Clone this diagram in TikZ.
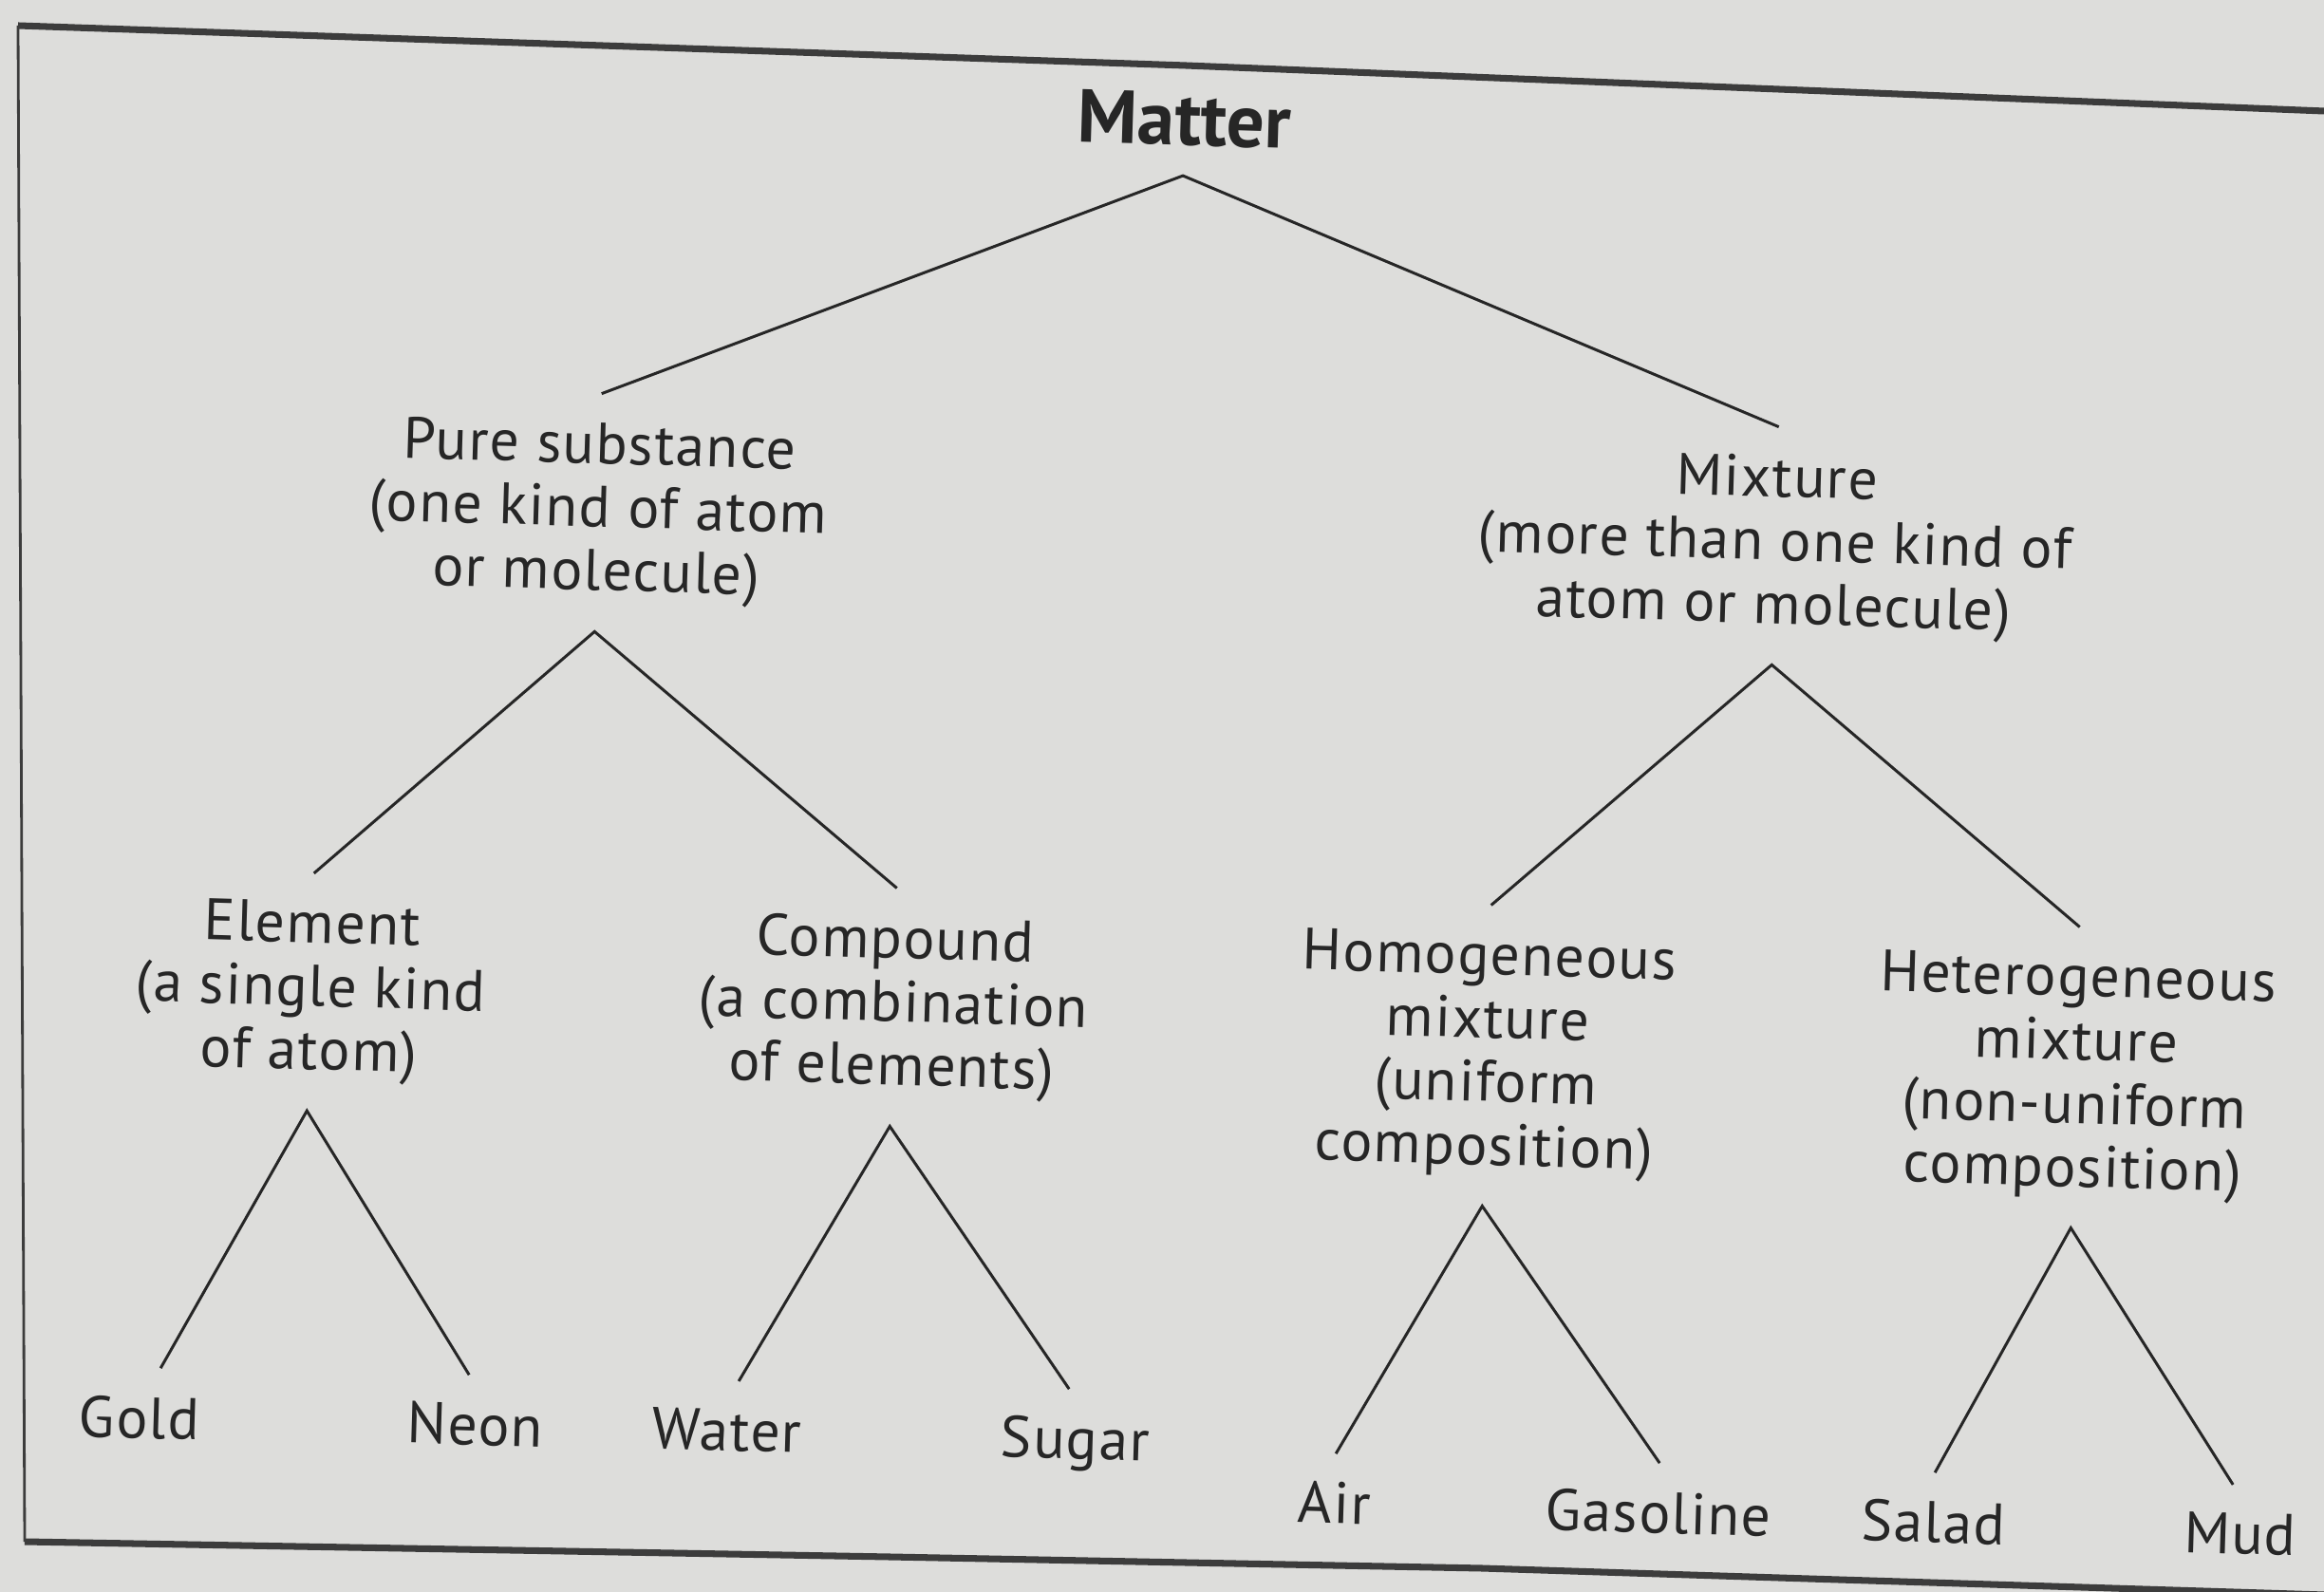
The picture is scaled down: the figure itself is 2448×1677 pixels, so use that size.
\documentclass[tikz,border=0pt]{standalone}
\usepackage{fontspec}
\setmainfont{PT Sans}
\newfontfamily\lblfont[LetterSpace=2.5]{PT Sans}
\definecolor{paper}{RGB}{221,221,219}
\definecolor{ink}{RGB}{38,38,38}
\begin{document}
\begin{tikzpicture}[x=0.01cm,y=-0.01cm,
  lbl/.style={font=\lblfont\fontsize{17.5}{19}\selectfont, text=ink, align=center, inner sep=0pt, outer ysep=0.3cm, rotate=-1.7},
  leaf/.style={lbl, anchor=base},
  top/.style={font=\bfseries\fontsize{22.5}{24}\selectfont, text=ink, inner sep=0pt, outer ysep=0.31cm, rotate=-1.7, anchor=base},
  branch/.style={draw=ink, line width=0.85pt},
  frameline/.style={draw=ink!90, line width=2pt, line join=round},
  frameside/.style={draw=ink!90, line width=0.8pt}]
\fill[paper] (0,0) rectangle (2448,1677);
\useasboundingbox (0,0) rectangle (2448,1677);
% frame
\draw[frameline] (19,27) -- (1249,69) -- (2448,117);
\draw[frameside] (19,27) -- (26,1624);
\draw[frameline] (26,1624) -- (937,1640) -- (1561,1652) -- (1905,1663) -- (2448,1680);
% nodes
\node[top] (matter) at (1247,153) {Matter};
\node[lbl] (pure) at (630,540) {Pure substance\\(one kind of atom\\or molecule)};
\node[lbl] (mix) at (1870,575) {Mixture\\(more than one kind of\\atom or molecule)};
\node[lbl] (elem) at (327,1045) {Element\\(a single kind\\of atom)};
\node[lbl] (comp) at (941,1061) {Compound\\(a combination\\of elements)};
\node[lbl] (homo) at (1566,1112) {Homogeneous\\mixture\\(uniform\\composition)};
\node[lbl] (hetero) at (2186,1135) {Heterogeneous\\mixture\\(non-uniform\\composition)};
\node[leaf] (gold) at (146,1515) {Gold};
\node[leaf] (neon) at (500,1522) {Neon};
\node[leaf] (water) at (765,1528) {Water};
\node[leaf] (sugar) at (1132,1537) {Sugar};
\node[leaf] (air) at (1405,1605) {Air};
\node[leaf] (gas) at (1746,1615) {Gasoline};
\node[leaf] (salad) at (2036,1625) {Salad};
\node[leaf] (mud) at (2359,1637) {Mud};
% connectors
\draw[branch] (pure.north) -- (matter.south) -- (mix.north);
\draw[branch] (elem.north) -- (pure.south) -- (comp.north);
\draw[branch] (homo.north) -- (mix.south) -- (hetero.north);
\draw[branch] ([xshift=0.21cm]gold.north) -- (elem.south) -- ([xshift=-0.08cm]neon.north);
\draw[branch] ([xshift=0.11cm]water.north) -- (comp.south) -- ([xshift=-0.08cm]sugar.north);
\draw[branch] (air.north) -- (homo.south) -- (gas.north);
\draw[branch] (salad.north) -- (hetero.south) -- ([xshift=-0.09cm]mud.north);
\end{tikzpicture}
\end{document}
